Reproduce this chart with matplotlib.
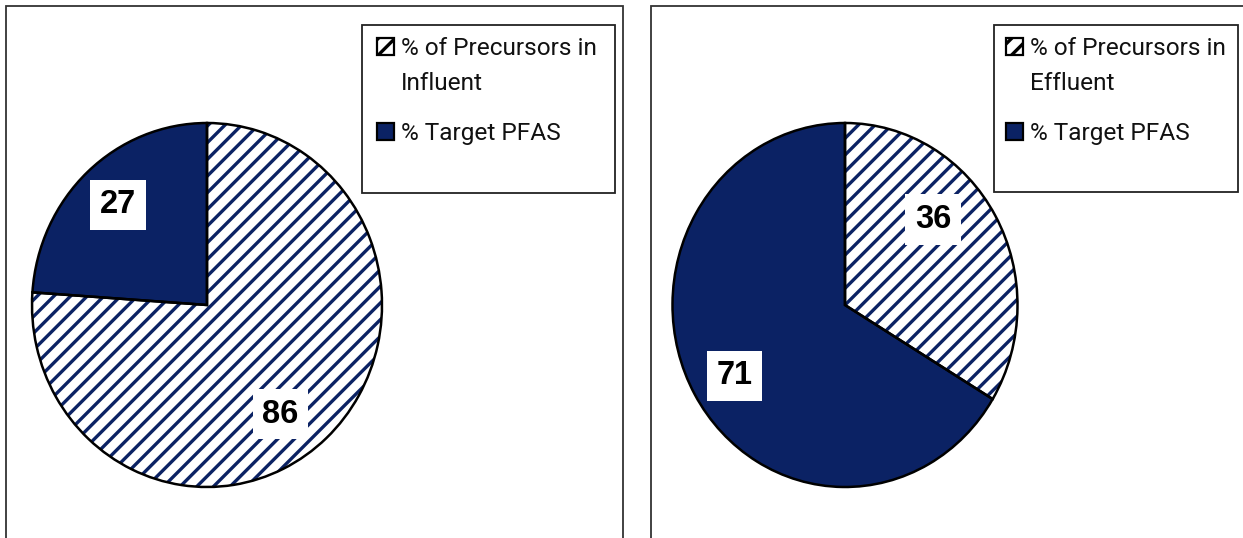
import matplotlib
matplotlib.use("Agg")
import matplotlib.pyplot as plt
from matplotlib.patches import Rectangle

# data
labels_in = ["% of Precursors in\nInfluent", "% Target PFAS"]
values_in = [86, 27]
labels_eff = ["% of Precursors in\nEffluent", "% Target PFAS"]
values_eff = [36, 71]

NAVY = "#0b2264"
W, H = 1243, 538

plt.rcParams["hatch.linewidth"] = 2.4
plt.rcParams["hatch.color"] = NAVY

fig = plt.figure(figsize=(W / 100, H / 100), dpi=100)


def fx(x):
    return x / W


def fy(y):
    return 1 - y / H


def box(x0, y0, x1, y1, lw=1.3, color="#333333"):
    fig.patches.append(Rectangle((fx(x0), fy(y1)), fx(x1) - fx(x0), fy(y0) - fy(y1),
                                 transform=fig.transFigure, fill=False,
                                 edgecolor=color, lw=lw, zorder=0))


def draw_panel(values, labels, cx, cy, rx, ry, label_xy, legend_box, pad=15):
    # pie was stretched a little vertically in the source image
    ax = fig.add_axes([fx(cx - rx), fy(cy + ry), 2 * rx / W, 2 * ry / H])
    wedges, _ = ax.pie(values, startangle=90, counterclock=False,
                       colors=["white", NAVY], radius=1,
                       wedgeprops=dict(edgecolor=NAVY, linewidth=0))
    wedges[0].set_hatch("//")
    # outlines on top
    ax.pie(values, startangle=90, counterclock=False, radius=1,
           wedgeprops=dict(facecolor="none", edgecolor="black", linewidth=1.8))
    ax.set_xlim(-1.0, 1.0)
    ax.set_ylim(-1.0, 1.0)
    ax.set_aspect("auto")
    ax.axis("off")

    for v, (lx, ly) in zip(values, label_xy):
        ax.text(lx, ly, str(v), ha="center", va="center", fontsize=23.5,
                fontweight="bold", family="Liberation Sans", color="black",
                bbox=dict(boxstyle="square,pad=0.3", facecolor="white", edgecolor="none"))

    # legend drawn like the Excel one
    x0, y0, x1, y1 = legend_box
    box(x0, y0, x1, y1, lw=1.3, color="#222222")
    ty = y0 + 30
    for i, lab in enumerate(labels):
        hx, hs = x0 + pad, 17
        fig.patches.append(Rectangle((fx(hx), fy(ty)), hs / W, hs / H,
                                     transform=fig.transFigure,
                                     facecolor="white" if i == 0 else NAVY,
                                     hatch="//" if i == 0 else None,
                                     edgecolor="black", lw=1.6, zorder=3))
        for line in lab.split("\n"):
            fig.text(fx(hx + hs + 7), fy(ty), line, ha="left", va="baseline",
                     fontsize=17.6, family="Roboto", color="#111111")
            ty += 35
        ty += 15


box(6, 6, 623, 560)
box(651, 6, 1260, 560)

draw_panel(values_in, labels_in, 207, 305, 175, 182,
           [(0.42, -0.60), (-0.51, 0.55)], (362, 25, 615, 193))
draw_panel(values_eff, labels_eff, 845, 305, 172.5, 182,
           [(0.51, 0.47), (-0.64, -0.39)], (994, 25, 1238, 192), pad=12)

fig.savefig("out.png", dpi=100)
